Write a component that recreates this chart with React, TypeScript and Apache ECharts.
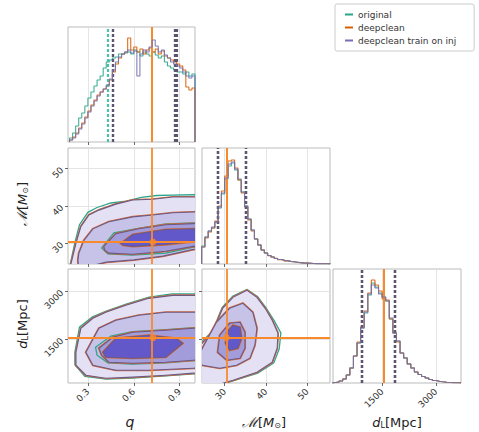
import React, { useEffect, useRef } from 'react';
import * as echarts from 'echarts';

const FONT = 'DejaVu Sans';
const SERIES_NAMES = ['original', 'deepclean', 'deepclean train on inj'];
const SERIES_COLORS = ['#2ca58d', '#d95f02', '#7570b3'];
const INJ_COLOR = '#f98a2c';
const QUANT_DARK = '#5d5470';

// axis ranges & ticks
const Q_RANGE = [0.17, 1.0];
const MC_RANGE = [24.5, 55.5];
const DL_RANGE = [130, 3700];
const Q_TICKS = [0.3, 0.6, 0.9];
const MC_TICKS = [30, 40, 50];
const DL_TICKS = [1500, 3000];

// injection values
const INJ_Q = 0.725;
const INJ_MC = 30.4;
const INJ_DL = 1550;

// histogram binning
const Q_BIN_START = 0.18;
const Q_BIN_WIDTH = 0.02;
const MC_BIN_START = 24.4;
const MC_BIN_WIDTH = 0.8;
const DL_BIN_START = 100;
const DL_BIN_WIDTH = 100;

// q histogram counts (original, deepclean, deepclean train on inj)
const qOriginal = [4, 9, 16, 24, 29, 36, 44, 50, 56, 62, 66, 74, 80, 82, 84, 85, 88, 88, 89, 90, 88, 92, 90, 86, 90, 88, 86, 90, 87, 84, 86, 80, 76, 74, 72, 70, 70, 68, 70, 66, 68];
const qDeepclean = [2, 5, 9, 14, 19, 25, 31, 37, 42, 47, 50, 53, 56, 62, 70, 78, 84, 88, 90, 104, 92, 95, 90, 93, 88, 92, 94, 90, 93, 88, 91, 86, 84, 82, 80, 78, 76, 72, 55, 52, 54];
const qTrainInj = [2, 4, 8, 13, 18, 24, 30, 36, 41, 46, 50, 53, 57, 63, 72, 80, 85, 88, 90, 92, 89, 91, 66, 88, 92, 90, 95, 102, 96, 90, 92, 87, 84, 80, 78, 76, 74, 70, 66, 64, 66];

// chirp mass histogram counts
const mcOriginal = [18, 27, 33, 36, 42, 56, 70, 85, 98, 101, 94, 84, 72, 58, 45, 34, 25, 19, 14, 11, 8.5, 7, 5.5, 4.5, 4, 3.2, 2.6, 2.2, 1.8, 1.4, 1.1, 0.9, 0.7, 0.5, 0.4, 0.3, 0.2, 0.2, 0.1];
const mcDeepclean = [17, 26, 32, 36, 43, 58, 73, 88, 103, 104, 96, 84, 71, 57, 44, 33, 25, 19, 14, 11, 8.4, 7, 5.6, 4.4, 4, 3.1, 2.6, 2.2, 1.7, 1.4, 1.1, 0.9, 0.7, 0.5, 0.4, 0.3, 0.2, 0.2, 0.1];
const mcTrainInj = [17, 27, 33, 37, 42, 57, 71, 86, 100, 102, 95, 85, 72, 58, 45, 34, 25, 19, 14, 11, 8.5, 7, 5.5, 4.5, 4, 3.2, 2.6, 2.2, 1.8, 1.4, 1.1, 0.9, 0.7, 0.5, 0.4, 0.3, 0.2, 0.2, 0.1];

// luminosity distance histogram counts
const dlOriginal = [0.5, 1, 2, 4, 8, 15, 27, 40, 55, 70, 88, 100, 96, 90, 86, 82, 64, 50, 42, 30, 25, 19, 15, 11, 8.5, 6.5, 5, 3.5, 2.5, 1.8, 1.2, 0.8, 0.5, 0.3, 0.2, 0.1];
const dlDeepclean = [0.5, 1, 2, 4, 8, 15, 27, 41, 56, 72, 90, 103, 98, 92, 84, 83, 64, 50, 41, 30, 25, 19, 15, 11, 8.5, 6.5, 5, 3.5, 2.5, 1.8, 1.2, 0.8, 0.5, 0.3, 0.2, 0.1];
const dlTrainInj = [0.5, 1, 2, 4, 8, 15, 27, 40, 55, 71, 89, 98, 95, 89, 86, 82, 65, 50, 42, 30, 25, 19, 15, 11, 8.5, 6.5, 5, 3.5, 2.5, 1.8, 1.2, 0.8, 0.5, 0.3, 0.2, 0.1];

// 5-95% quantiles per series
const qQuantiles = [[0.43, 0.87], [0.46, 0.87], [0.46, 0.875]];
const mcQuantiles = [[28.4, 35.0], [28.4, 35.0], [28.4, 35.0]];
const dlQuantiles = [[920, 1860], [920, 1860], [920, 1860]];

// 2D contour levels: q vs chirp mass
const QMC_L4 = [[0.189, 24.5], [0.222, 30.0], [0.254, 34.5], [0.307, 37.6], [0.372, 38.9], [0.483, 40.5], [0.593, 41.6], [0.724, 41.8], [0.854, 42.4], [0.99, 42.4], [1.05, 42.4], [1.05, 20], [0.18, 20]];
const QMC_L3 = [[0.241, 27.4], [0.274, 30.8], [0.333, 33.9], [0.437, 35.8], [0.593, 37.1], [0.724, 37.6], [0.854, 38.2], [0.99, 38.4], [1.05, 38.5], [1.05, 28.6], [0.99, 28.4], [0.79, 26.6], [0.6, 25.6], [0.42, 25.0], [0.3, 23.8], [0.24, 23.0], [0.235, 25.5]];
const QMC_L2 = [[0.404, 29.2], [0.483, 32.6], [0.633, 33.9], [0.809, 35.0], [0.99, 35.3], [1.05, 35.4], [1.05, 29.3], [0.99, 29.2], [0.809, 27.9], [0.593, 27.1], [0.437, 27.4], [0.41, 28.2]];
const QMC_L1 = [[0.515, 30.0], [0.593, 32.4], [0.809, 33.7], [0.99, 33.9], [1.05, 34.0], [1.05, 30.6], [0.99, 30.5], [0.809, 29.7], [0.593, 29.2], [0.53, 29.5]];
const QMC_TEAL_OUTER = [[0.185, 24.5], [0.215, 30.2], [0.245, 35.0], [0.3, 38.3], [0.36, 39.6], [0.45, 40.8], [0.55, 41.3], [0.65, 42.3], [0.75, 42.8], [0.85, 42.9], [0.99, 43.0], [1.05, 43.0], [1.05, 20], [0.18, 20]];
const QMC_TEAL_L2 = [[0.39, 28.8], [0.47, 32.8], [0.63, 34.0], [0.81, 35.2], [0.99, 35.5], [1.05, 35.5], [1.05, 29.0], [0.99, 29.0], [0.81, 27.4], [0.59, 26.9], [0.43, 27.2]];

// q vs luminosity distance
const QDL_L4 = [[0.222, 1094], [0.254, 1844], [0.333, 2156], [0.417, 2344], [0.548, 2563], [0.698, 2781], [0.854, 2875], [0.99, 2875], [1.05, 2875], [1.05, 430], [0.99, 438], [0.809, 375], [0.593, 313], [0.417, 281], [0.287, 375], [0.222, 688]];
const QDL_L3 = [[0.287, 1094], [0.372, 1844], [0.483, 2094], [0.633, 2250], [0.809, 2344], [0.99, 2344], [1.05, 2344], [1.05, 600], [0.99, 594], [0.698, 531], [0.483, 531], [0.333, 688]];
const QDL_L2 = [[0.372, 1219], [0.463, 1563], [0.593, 1719], [0.809, 1781], [0.99, 1844], [1.05, 1850], [1.05, 850], [0.99, 844], [0.809, 781], [0.593, 750], [0.437, 781], [0.39, 1000]];
const QDL_L1 = [[0.398, 1094], [0.483, 1531], [0.698, 1625], [0.874, 1531], [0.92, 1375], [0.809, 938], [0.593, 906], [0.417, 938]];
const QDL_TEAL_OUTER = [[0.215, 1100], [0.245, 1880], [0.33, 2200], [0.42, 2380], [0.55, 2600], [0.7, 2820], [0.85, 2920], [0.99, 2920], [1.05, 2920], [1.05, 400], [0.99, 420], [0.81, 350], [0.59, 280], [0.42, 250], [0.28, 340], [0.215, 700]];
const QDL_TEAL_L2 = [[0.35, 1250], [0.45, 1600], [0.59, 1740], [0.81, 1800], [0.99, 1860], [1.05, 1860], [1.05, 840], [0.99, 830], [0.81, 760], [0.59, 720], [0.43, 760], [0.36, 1000]];

// chirp mass vs luminosity distance
const MCDL_L4 = [[21, 100], [21, 1600], [24.0, 1300], [27.1, 1719], [29.5, 2469], [32.0, 2813], [35.4, 3031], [37.8, 2813], [39.8, 2469], [41.5, 2094], [42.9, 1688], [42.7, 1219], [41.5, 781], [37.8, 469], [32.0, 219], [28.0, 63], [24.0, 0], [21, 0]];
const MCDL_L3 = [[24.6, 1219], [28.0, 2031], [31.2, 2469], [34.4, 2625], [36.8, 2344], [37.8, 1844], [37.3, 1313], [36.1, 906], [32.9, 688], [28.8, 594], [24.6, 688], [23.5, 900]];
const MCDL_L2 = [[28.3, 1094], [28.8, 1625], [31.2, 2000], [33.7, 2031], [34.9, 1719], [34.9, 1219], [33.7, 906], [30.5, 844]];
const MCDL_L1 = [[30.2, 1375], [30.5, 1719], [32.0, 1938], [33.7, 1875], [34.1, 1531], [33.2, 1219], [31.2, 1156]];
const MCDL_TEAL_OUTER = [[21, 100], [21, 1650], [23.8, 1350], [27.0, 1740], [29.4, 2500], [32.0, 2850], [35.4, 3060], [38.0, 2830], [40.0, 2480], [41.9, 2100], [43.6, 1700], [43.2, 1200], [41.9, 760], [38.0, 440], [32.0, 200], [28.0, 40], [24.0, -20], [21, 0]];

const LEVEL_FILLS = ['#e3e1f3', '#c6c2e8', '#a29cdb', '#6258c9'];

const GRIDS = [
  { left: 68, top: 27, width: 127, height: 115 },
  { left: 68, top: 148, width: 127, height: 116 },
  { left: 202, top: 148, width: 128, height: 116 },
  { left: 68, top: 269, width: 127, height: 114 },
  { left: 202, top: 269, width: 128, height: 114 },
  { left: 333, top: 269, width: 128, height: 114 },
];

function histData(start: number, width: number, vals: number[]) {
  const d: number[][] = [[start, 0]];
  vals.forEach((v, i) => d.push([start + i * width, v]));
  d.push([start + vals.length * width, 0]);
  return d;
}

function valAxis(gridIndex: number, range: number[], ticks: number[], labels: boolean, isY: boolean) {
  return {
    type: 'value',
    gridIndex,
    min: range[0],
    max: range[1],
    axisLine: { show: false },
    axisTick: { show: true, length: 3, lineStyle: { color: '#444', width: 0.8 }, customValues: ticks },
    axisLabel: {
      show: labels,
      customValues: ticks,
      rotate: 45,
      margin: isY ? 6 : 7,
      fontSize: 9,
      color: '#333',
      fontFamily: FONT,
      formatter: (v: number) => String(v),
    },
    splitLine: { show: true, lineStyle: { color: '#dedede', width: 0.8 } },
  };
}

function histYAxis(gridIndex: number, max: number) {
  return { type: 'value', gridIndex, min: 0, max, show: false, splitLine: { show: false } };
}

function histSeries(gi: number, start: number, width: number, sets: number[][], quants: number[][], inj: number) {
  return sets.map((vals, k) => ({
    type: 'line',
    name: SERIES_NAMES[k],
    xAxisIndex: gi,
    yAxisIndex: gi,
    step: 'end',
    symbol: 'none',
    silent: true,
    color: SERIES_COLORS[k],
    lineStyle: { color: SERIES_COLORS[k], width: 1.1, opacity: 0.9 },
    data: histData(start, width, vals),
    z: 3 + k,
    markLine: {
      silent: true,
      symbol: ['none', 'none'],
      label: { show: false },
      lineStyle: { type: [3, 2], width: 2.2, color: k === 0 && gi === 0 ? '#4bbfb0' : QUANT_DARK },
      data: [
        ...quants[k].map((v) => ({ xAxis: v })),
        ...(k === 2 ? [{ xAxis: inj, lineStyle: { type: 'solid', width: 2, color: INJ_COLOR } }] : []),
      ],
    },
  }));
}

type Poly = { pts: number[][]; kind: 'teal' | 'fill'; fill?: string };

function contourSeries(gi: number, polys: Poly[]) {
  return {
    type: 'custom',
    xAxisIndex: gi,
    yAxisIndex: gi,
    clip: true,
    silent: true,
    z: 2,
    data: polys.map((p) => p.pts[0]),
    encode: { x: 0, y: 1 },
    renderItem: (params: any, api: any) => {
      const p = polys[params.dataIndex];
      const pts = p.pts.map((pt) => api.coord(pt));
      if (p.kind === 'teal') {
        return { type: 'polygon', shape: { points: pts }, style: { fill: 'none', stroke: SERIES_COLORS[0], lineWidth: 1.3 } };
      }
      return {
        type: 'group',
        children: [
          { type: 'polygon', shape: { points: pts }, style: { fill: 'none', stroke: '#dd6a33', lineWidth: 2.2 } },
          { type: 'polygon', shape: { points: pts }, style: { fill: p.fill, stroke: '#6c5a86', lineWidth: 1.1 } },
        ],
      };
    },
  };
}

function injSeries(gi: number, x: number, y: number) {
  return {
    type: 'scatter',
    name: 'injection',
    xAxisIndex: gi,
    yAxisIndex: gi,
    silent: true,
    symbolSize: 7,
    itemStyle: { color: INJ_COLOR },
    data: [[x, y]],
    z: 10,
    markLine: {
      silent: true,
      symbol: ['none', 'none'],
      label: { show: false },
      lineStyle: { type: 'solid', width: 1.8, color: INJ_COLOR },
      data: [{ xAxis: x }, { yAxis: y }],
    },
  };
}

const MC_RICH = { m: { font: 'italic 14px DejaVu Serif', fill: '#222' }, n: { font: 'italic 13px DejaVu Sans', fill: '#222' }, s: { font: '8px DejaVu Sans', fill: '#222', padding: [6, 0, 0, 0] } };
const DL_RICH = { d: { font: 'italic 13px DejaVu Sans', fill: '#222' }, s: { font: '8px DejaVu Sans', fill: '#222', padding: [6, 0, 0, 0] } };

function buildOption() {
  const fills = (l4: number[][], l3: number[][], l2: number[][], l1: number[][], tOuter: number[][], tL2?: number[][]): Poly[] => {
    const list: Poly[] = [
      { pts: tOuter, kind: 'teal' },
      { pts: l4, kind: 'fill', fill: LEVEL_FILLS[0] },
      { pts: l3, kind: 'fill', fill: LEVEL_FILLS[1] },
    ];
    if (tL2) list.push({ pts: tL2, kind: 'teal' });
    list.push({ pts: l2, kind: 'fill', fill: LEVEL_FILLS[2] });
    list.push({ pts: l1, kind: 'fill', fill: LEVEL_FILLS[3] });
    return list;
  };

  return {
    animation: false,
    backgroundColor: '#fff',
    textStyle: { fontFamily: FONT },
    grid: GRIDS.map((g) => ({ ...g, show: true, borderColor: '#bbb', borderWidth: 1, backgroundColor: 'transparent', containLabel: false, outerBoundsMode: 'none' })),
    xAxis: [
      valAxis(0, Q_RANGE, Q_TICKS, false, false),
      valAxis(1, Q_RANGE, Q_TICKS, false, false),
      valAxis(2, MC_RANGE, MC_TICKS, false, false),
      valAxis(3, Q_RANGE, Q_TICKS, true, false),
      valAxis(4, MC_RANGE, MC_TICKS, true, false),
      valAxis(5, DL_RANGE, DL_TICKS, true, false),
    ],
    yAxis: [
      histYAxis(0, 115),
      valAxis(1, MC_RANGE, MC_TICKS, true, true),
      histYAxis(2, 116),
      valAxis(3, DL_RANGE, DL_TICKS, true, true),
      valAxis(4, DL_RANGE, DL_TICKS, false, true),
      histYAxis(5, 114),
    ],
    legend: {
      data: SERIES_NAMES,
      orient: 'vertical',
      left: 335,
      top: 4,
      itemWidth: 8,
      itemHeight: 2,
      itemGap: 4,
      icon: 'rect',
      textStyle: { fontSize: 9, color: '#333', fontFamily: FONT },
      borderColor: '#ccc',
      borderWidth: 1,
      borderRadius: 2,
      padding: [6, 18, 6, 10],
      selectedMode: false,
    },
    series: [
      ...histSeries(0, Q_BIN_START, Q_BIN_WIDTH, [qOriginal, qDeepclean, qTrainInj], qQuantiles, INJ_Q),
      ...histSeries(2, MC_BIN_START, MC_BIN_WIDTH, [mcOriginal, mcDeepclean, mcTrainInj], mcQuantiles, INJ_MC),
      ...histSeries(5, DL_BIN_START, DL_BIN_WIDTH, [dlOriginal, dlDeepclean, dlTrainInj], dlQuantiles, INJ_DL),
      contourSeries(1, fills(QMC_L4, QMC_L3, QMC_L2, QMC_L1, QMC_TEAL_OUTER, QMC_TEAL_L2)),
      contourSeries(3, fills(QDL_L4, QDL_L3, QDL_L2, QDL_L1, QDL_TEAL_OUTER, QDL_TEAL_L2)),
      contourSeries(4, fills(MCDL_L4, MCDL_L3, MCDL_L2, MCDL_L1, MCDL_TEAL_OUTER)),
      injSeries(1, INJ_Q, INJ_MC),
      injSeries(3, INJ_Q, INJ_DL),
      injSeries(4, INJ_MC, INJ_DL),
    ],
    graphic: [
      { type: 'text', x: 130, y: 422, style: { text: 'q', font: 'italic 14px DejaVu Sans', fill: '#222', align: 'center', verticalAlign: 'middle' } },
      { type: 'text', x: 264, y: 422, style: { text: '{m|ℳ}[{n|M}{s|⊙}]', fill: '#222', align: 'center', verticalAlign: 'middle', font: '13px DejaVu Sans', rich: MC_RICH } },
      { type: 'text', x: 397, y: 422, style: { text: '{d|d}{s|L}[Mpc]', fill: '#222', align: 'center', verticalAlign: 'middle', font: '13px DejaVu Sans', rich: DL_RICH } },
      { type: 'text', x: 22, y: 204, rotation: Math.PI / 2, style: { text: '{m|ℳ}[{n|M}{s|⊙}]', fill: '#222', align: 'center', verticalAlign: 'middle', font: '13px DejaVu Sans', rich: MC_RICH } },
      { type: 'text', x: 22, y: 324, rotation: Math.PI / 2, style: { text: '{d|d}{s|L}[Mpc]', fill: '#222', align: 'center', verticalAlign: 'middle', font: '13px DejaVu Sans', rich: DL_RICH } },
    ],
  };
}

export default function App() {
  const ref = useRef<HTMLDivElement>(null);
  useEffect(() => {
    if (!ref.current) return;
    const chart = echarts.init(ref.current, null, { renderer: 'svg' });
    chart.setOption(buildOption() as any);
    return () => chart.dispose();
  }, []);
  return <div ref={ref} style={{ position: 'fixed', left: 0, top: 0, width: 479, height: 432, background: '#fff' }} />;
}
